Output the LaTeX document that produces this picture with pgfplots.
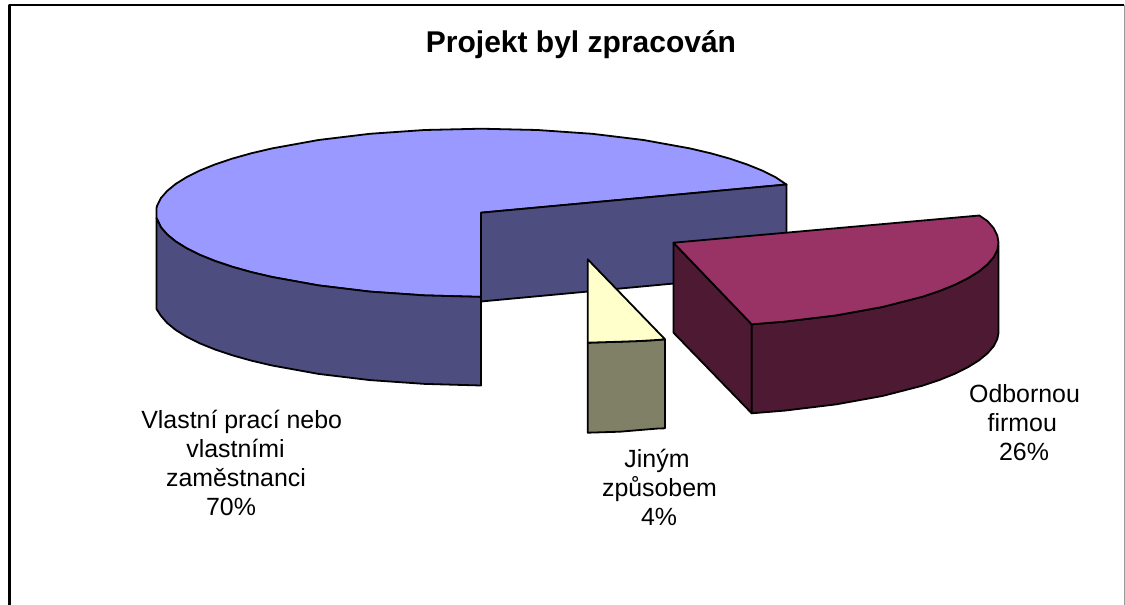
\documentclass[border=0pt]{standalone}
\usepackage{fontspec}
\setmainfont{Liberation Sans}
\usepackage{pgfplots}
\pgfplotsset{compat=1.18}
\definecolor{blueTop}{HTML}{9999FF}
\definecolor{blueSide}{HTML}{4D4D80}
\definecolor{redTop}{HTML}{993366}
\definecolor{redSide}{HTML}{4D1933}
\definecolor{yelTop}{HTML}{FFFFCC}
\definecolor{yelSide}{HTML}{808066}
\tikzset{lab/.style={anchor=base,inner sep=0pt,font=\fontsize{24.9}{29}\selectfont}}
\begin{document}
\begin{tikzpicture}
\path[use as bounding box] (0,0) rectangle (1125pt,605pt);
\begin{axis}[at={(0,0)},anchor=south west,scale only axis,width=1125pt,height=605pt,
  xmin=0,xmax=1125,ymin=0,ymax=605,y dir=reverse,hide axis,clip=false,no markers,
  every axis plot/.append style={line join=round,line width=1.8pt,draw=black}]
% frame
\addplot[line width=2.4pt] coordinates {(9.5,605)(9.5,4.7)(1124,4.7)};
\addplot[draw=black!40,line width=1pt] coordinates {(1124.5,5)(1124.5,605)};
% 70 % slice: top
\addplot[fill=blueTop] coordinates {
(481,212.7)(786.5,184.5)(775.5,177.2)(762.5,170.7)(747.2,164.5)(730,158.7)(710.8,153.3)(689.9,148.4)(643.5,140)(592.2,133.8)(537.4,130)(481,128.7)
(424.6,130)(369.8,133.8)(318.5,140)(272.1,148.4)(251.2,153.3)(232,158.7)(214.8,164.5)(199.5,170.7)(186.5,177.2)(175.6,184)(167.1,191)(160.9,198.1)(157.2,205.4)(156.5,208)
(156.5,218)(160.9,227.3)(167.1,234.4)(175.6,241.4)(186.5,248.2)(199.5,254.7)(214.8,260.9)(232,266.7)(251.2,272.1)(272.1,277)(318.5,285.4)(369.8,291.6)(424.6,295.4)(481,296.9)
} --cycle;
% 70 % slice: inner face
\addplot[fill=blueSide] coordinates {(481,212.7)(786.5,184.5)(786.5,273)(481,301.5)} --cycle;
% 70 % slice: outer face
\addplot[fill=blueSide] coordinates {
(156.5,218)(160.9,227.3)(167.1,234.4)(175.6,241.4)(186.5,248.2)(199.5,254.7)(214.8,260.9)(232,266.7)(251.2,272.1)(272.1,277)(318.5,285.4)(369.8,291.6)(424.6,295.4)(481,296.9)
(481,385.5)(424.6,383.9)(369.8,380.1)(318.5,373.9)(272.1,365.5)(251.2,360.6)(232,355.2)(214.8,349.4)(199.5,343.2)(186.5,336.7)(175.6,329.9)(167.1,322.9)(160.9,315.8)(156.5,309)
} --cycle;
% 4 % slice
\addplot[fill=yelSide] coordinates {(587.7,342.7)(620,341.7)(640,341)(657,340)(665,339.3)(665,428.3)(657,428.6)(640,430)(620,431.7)(587.7,432.7)} --cycle;
\addplot[fill=yelTop] coordinates {(587.7,259.3)(665,339.3)(657,340)(640,341)(620,341.7)(587.7,342.7)} --cycle;
% 26 % slice
\addplot[fill=redSide] coordinates {(673.5,242.7)(751.7,324.3)(751.7,413.3)(673.5,332.7)} --cycle;
\addplot[fill=redSide] coordinates {
(751.7,324.3)(784.7,321.6)(836,315.4)(882.4,307)(922.5,296.7)(939.7,290.9)(955,284.7)(968,278.2)(978.9,271.4)(987.4,264.4)(993.6,257.3)(997.3,250)(998.5,245)
(998.5,333)(997.3,339)(993.6,346.3)(987.4,353.4)(978.9,360.4)(968,367.2)(955,373.7)(939.7,379.9)(922.5,385.7)(882.4,396)(836,404.4)(784.7,410.6)(751.7,413.3)
} --cycle;
\addplot[fill=redTop] coordinates {
(673.5,242.7)(979.3,215.5)(987.4,221)(993.6,228.1)(997.3,235.4)(998.5,242.7)(997.3,250)(993.6,257.3)(987.4,264.4)(978.9,271.4)(968,278.2)(955,284.7)(939.7,290.9)(922.5,296.7)(882.4,307)(836,315.4)(784.7,321.6)(751.7,324.3)
} --cycle;
% texts
\node[anchor=base,inner sep=0pt,font=\fontsize{30}{34}\selectfont\bfseries] at (axis cs:581,52.3) {Projekt byl zpracován};
\node[lab] at (axis cs:241.7,428) {Vlastní prací nebo};
\node[lab] at (axis cs:235.5,457) {vlastními};
\node[lab] at (axis cs:236,486.5) {zaměstnanci};
\node[lab] at (axis cs:231,515.5) {70\%};
\node[lab] at (axis cs:1024.5,402.7) {Odbornou};
\node[lab] at (axis cs:1022.3,431.5) {firmou};
\node[lab] at (axis cs:1024,460.7) {26\%};
\node[lab] at (axis cs:657,467.7) {Jiným};
\node[lab] at (axis cs:659.5,496.5) {způsobem};
\node[lab] at (axis cs:659,525.5) {4\%};
\end{axis}
\end{tikzpicture}
\end{document}
